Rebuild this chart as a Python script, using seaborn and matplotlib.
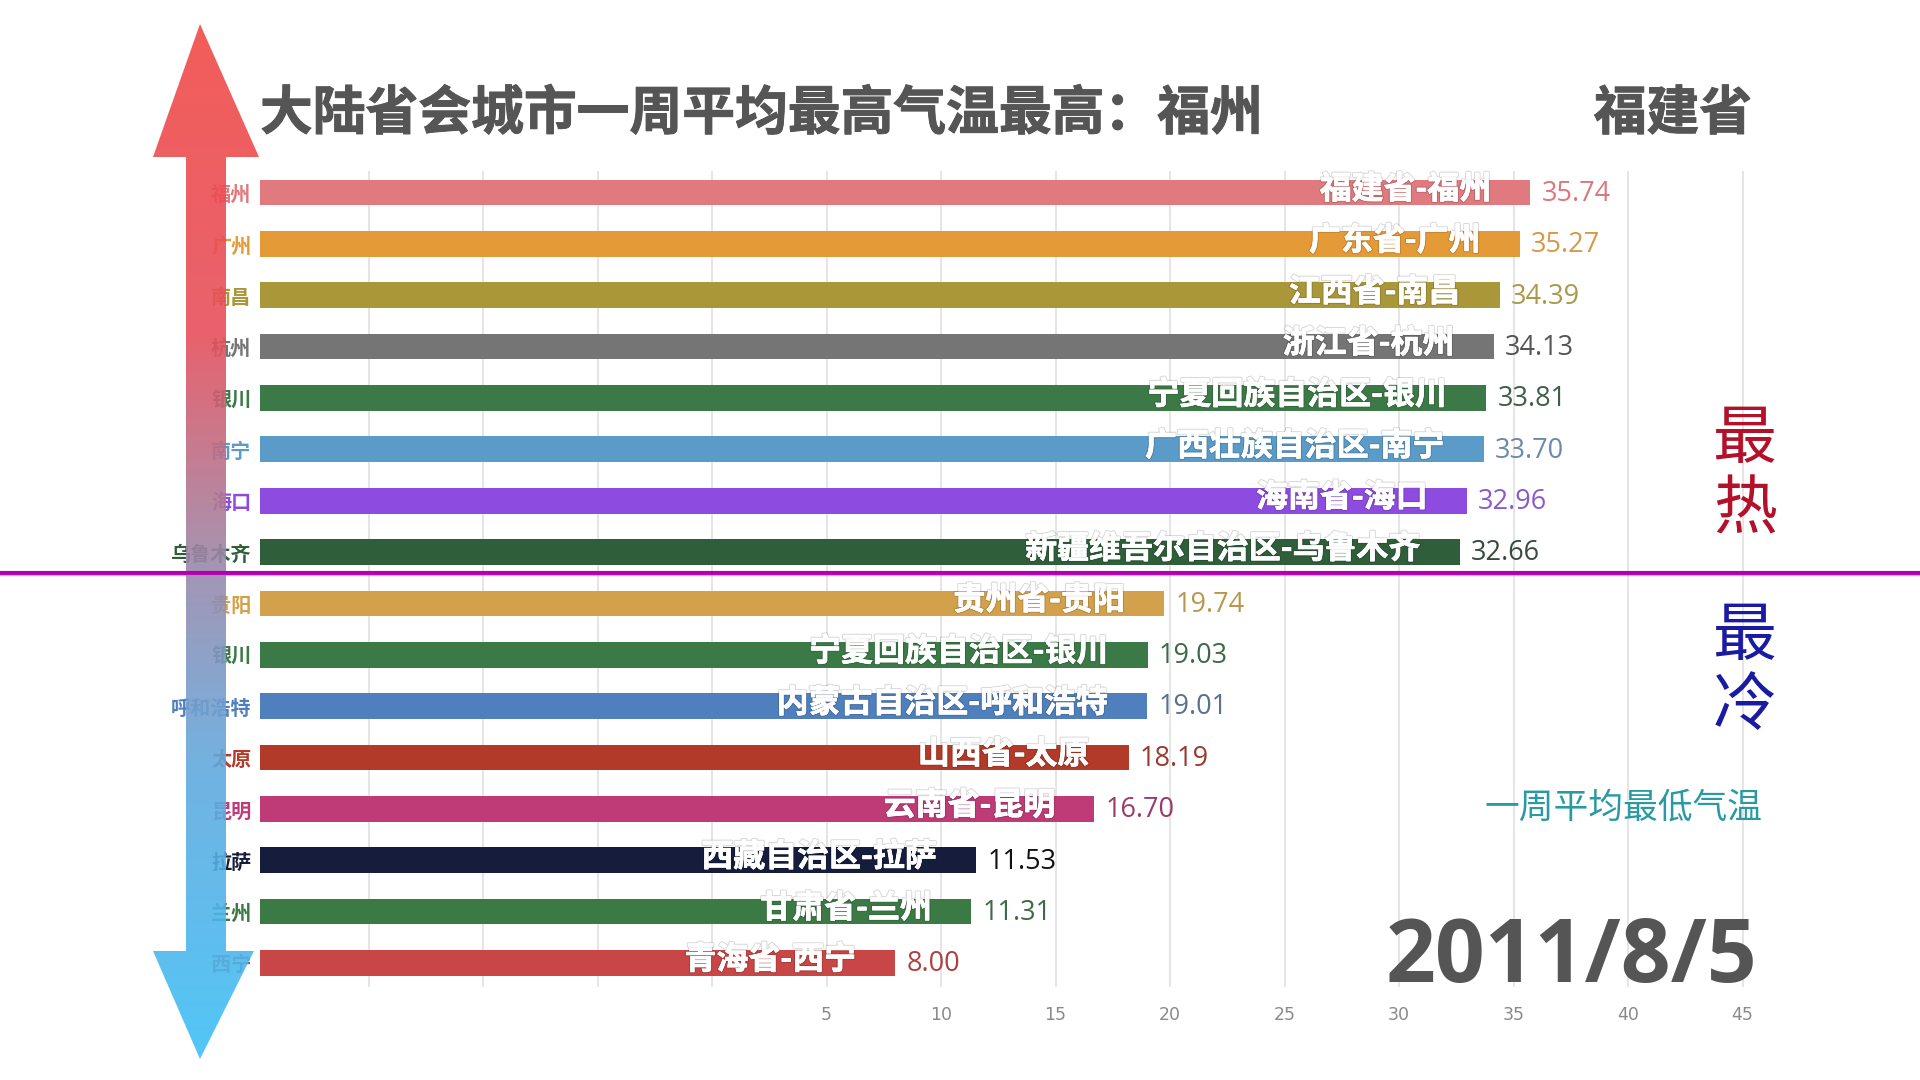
import numpy as np
import pandas as pd
import matplotlib
matplotlib.use("Agg")
import matplotlib.pyplot as plt
import matplotlib.patheffects as pe
from matplotlib.colors import LinearSegmentedColormap
from matplotlib.patches import Polygon
import seaborn as sns

# ---------------- data ----------------
bar_labels = ["福建省-福州", "广东省-广州", "江西省-南昌", "浙江省-杭州",
              "宁夏回族自治区-银川", "广西壮族自治区-南宁", "海南省-海口",
              "新疆维吾尔自治区-乌鲁木齐",
              "贵州省-贵阳", "宁夏回族自治区-银川", "内蒙古自治区-呼和浩特",
              "山西省-太原", "云南省-昆明", "西藏自治区-拉萨", "甘肃省-兰州",
              "青海省-西宁"]
cities = ["福州", "广州", "南昌", "杭州", "银川", "南宁", "海口", "乌鲁木齐",
          "贵阳", "银川", "呼和浩特", "太原", "昆明", "拉萨", "兰州", "西宁"]
temps = [35.74, 35.27, 34.39, 34.13, 33.81, 33.70, 32.96, 32.66,
         19.74, 19.03, 19.01, 18.19, 16.70, 11.53, 11.31, 8.00]
bar_colors = ["#E07A7E", "#E49B37", "#A99739", "#757575", "#3B7A47", "#5B9BC8",
              "#8E4BE0", "#2F5E3A", "#D3A14C", "#3B7A47", "#4F80BD", "#B13A28",
              "#BE3B78", "#161C3C", "#3C7A45", "#C84646"]
value_colors = ["#D9787C", "#D49A48", "#A99A4A", "#555555", "#3E5E48", "#6A8AA8",
                "#8A5AC8", "#3A4A3E", "#B8964E", "#3F6A48", "#5A7090", "#9A3A2E",
                "#9A3A6A", "#111111", "#3F6A48", "#B04040"]
x_ticks = [-15, -10, -5, 0, 5, 10, 15, 20, 25, 30, 35, 40, 45]
title_text = "大陆省会城市一周平均最高气温最高：福州"
province_text = "福建省"
date_text = "2011/8/5"
hot_text = ["最", "热"]
cold_text = ["最", "冷"]
low_note = "一周平均最低气温"

# ---------------- style ----------------
sns.set_theme(style="white")
plt.rcParams["font.family"] = ["Noto Sans CJK SC", "DejaVu Sans"]

W, H = 1920, 1080
fig = plt.figure(figsize=(19.2, 10.8), dpi=100, facecolor="white")

XMIN, XMAX = -19.76, 46.0
ax = fig.add_axes([259.6 / W, 1 - 987 / H, (1765.4 - 259.6) / W, (987 - 171) / H])
ax.set_facecolor("none")

n = len(temps)
df = pd.DataFrame({"rank": [str(i) for i in range(n)], "value": temps})
order = [str(i) for i in range(n)]
sns.barplot(data=df, x="value", y="rank", hue="rank", order=order, hue_order=order,
            palette=bar_colors, width=0.5, saturation=1, legend=False, ax=ax,
            orient="h", errorbar=None)

# bars run from the left edge of the plotting area
for p in ax.patches:
    i = int(round(p.get_y() + p.get_height() / 2))
    p.set_x(XMIN)
    p.set_width(temps[i] - XMIN)
    p.set_edgecolor("none")

ax.set_xlim(XMIN, XMAX)
ax.set_ylim(n - 1 + 0.47, -0.42)
ax.set_xticks(x_ticks)
ax.set_xticklabels([str(t) if t > 0 else "" for t in x_ticks],
                   family=["Liberation Sans Narrow", "DejaVu Sans"],
                   fontsize=12.5, color="#8a8a8a")
ax.grid(axis="x", color="#dedede", lw=1.1)
ax.grid(axis="y", visible=False)
ax.set_axisbelow(True)
ax.tick_params(axis="x", length=0, pad=14)
ax.tick_params(axis="y", length=0, pad=6)
for s in ax.spines.values():
    s.set_visible(False)
ax.set_xlabel("")
ax.set_ylabel("")
ax.set_yticks(range(n))
ax.set_yticklabels(cities, fontsize=14.5, fontweight="bold")
for lab, c in zip(ax.get_yticklabels(), bar_colors):
    lab.set_color(c)

inner_fx = [pe.Stroke(linewidth=2.0, foreground="#00000026"),
            pe.Stroke(linewidth=0.5, foreground="white"), pe.Normal()]
for i, (lab, v) in enumerate(zip(bar_labels, temps)):
    ax.annotate(lab, xy=(v, i), xytext=(-28, 2), textcoords="offset points",
                ha="right", va="center", color="white", fontsize=23,
                fontweight="bold", path_effects=inner_fx)
    ax.annotate(f"{v:.2f}", xy=(v, i), xytext=(8, -1), textcoords="offset points",
                ha="left", va="center", color=value_colors[i], fontsize=19.5,
                family=["Open Sans", "DejaVu Sans"])

# ---------------- texts ----------------
title_fx = [pe.withStroke(linewidth=0.7, foreground="#555555")]
fig.text(260 / W, 1 - 114 / H, title_text, fontsize=38, fontweight="bold",
         color="#555555", ha="left", va="center", path_effects=title_fx)
fig.text(1752 / W, 1 - 114 / H, province_text, fontsize=38, fontweight="bold",
         color="#555555", ha="right", va="center", path_effects=title_fx)
for ch, yy in zip(hot_text, [440, 510]):
    fig.text(1745 / W, 1 - yy / H, ch, fontsize=46, color="#B3102A",
             ha="center", va="center")
for ch, yy in zip(cold_text, [637, 707]):
    fig.text(1745 / W, 1 - yy / H, ch, fontsize=46, color="#1A1AA2",
             ha="center", va="center")
fig.text(1763 / W, 1 - 808 / H, low_note, fontsize=25, color="#2A9AA2",
         ha="right", va="center")
fig.text(1757 / W, 1 - 959 / H, date_text, fontsize=63, fontweight="bold",
         color="#555555", ha="right", va="center",
         family=["Open Sans", "DejaVu Sans"])

# ---------------- overlay: gradient arrow + divider ----------------
ov = fig.add_axes([0, 0, 1, 1], zorder=10)
ov.set_xlim(0, W)
ov.set_ylim(H, 0)
ov.axis("off")
ov.set_facecolor("none")

arrow_pts = [(200, 24), (259, 157), (226, 157), (226, 951), (254, 951),
             (200, 1059), (153, 951), (186, 951), (186, 157), (153, 157)]
poly = Polygon(arrow_pts, closed=True, facecolor="none", edgecolor="none")
ov.add_patch(poly)
cmap = LinearSegmentedColormap.from_list(
    "arrow", [(0.0, "#F24B46"), (0.3, "#E6505C"), (0.52, "#9C88AA"),
              (0.72, "#62AADE"), (1.0, "#3EC0F6")])
grad = np.linspace(0, 1, 256).reshape(-1, 1)
im = ov.imshow(grad, cmap=cmap, aspect="auto", extent=(150, 262, 1060, 22),
               alpha=0.9, interpolation="bilinear", zorder=2)
im.set_clip_path(poly)
ov.set_xlim(0, W)
ov.set_ylim(H, 0)

ov.plot([0, W], [573, 573], color="#B000B0", lw=3, solid_capstyle="butt", zorder=3)
ov.plot([0, W], [575, 575], color="#D070D0", lw=1, alpha=0.6, zorder=3)

fig.savefig("out.png", dpi=100, facecolor="white")
